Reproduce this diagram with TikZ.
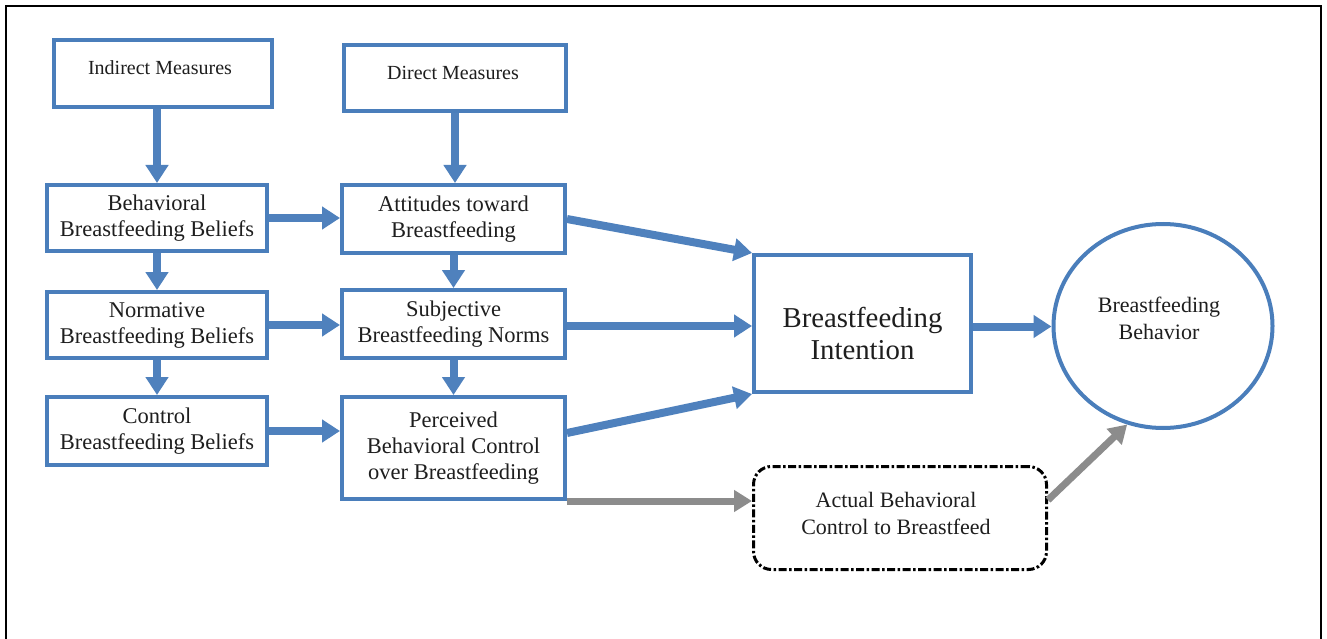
\documentclass[tikz,border=0pt]{standalone}
\usepackage{fontspec}
\setmainfont{Liberation Serif}
\usetikzlibrary{arrows.meta,shapes.geometric,calc}
\definecolor{bblue}{RGB}{74,126,187}
\definecolor{abblue}{RGB}{79,129,189}
\definecolor{agray}{RGB}{140,140,140}
\definecolor{txt}{RGB}{30,30,30}
\tikzset{
  box/.style={draw=bblue, line width=4pt, fill=white, inner sep=2pt, align=center,
    text=txt, font=\fontsize{22.5}{26}\selectfont},
  smalltxt/.style={text=txt, font=\fontsize{20}{24}\selectfont, inner sep=0pt},
  bigtxt/.style={text=txt, align=center, font=\fontsize{28.8}{32}\selectfont, inner sep=0pt},
  circtxt/.style={text=txt, align=center, font=\fontsize{22}{27}\selectfont, inner sep=0pt},
  barrow/.style={draw=abblue, line width=8pt, -{Triangle[length=18pt,width=22pt]}},
  garrow/.style={draw=agray, line width=7pt, -{Triangle[length=18pt,width=21pt]}},
  actbox/.style={draw=black, line width=3pt, rounded corners=18pt, fill=white,
    dash pattern=on 8pt off 2.5pt on 2.5pt off 2.5pt, align=center, text=txt,
    font=\fontsize{22}{27}\selectfont},
}
\begin{document}
\begin{tikzpicture}[x=1pt,y=-1pt]
\useasboundingbox (0,0) rectangle (1327,639);
\fill[white] (0,0) rectangle (1327,639);
\draw[line width=2pt] (6,660) -- (6,6) -- (1321,6) -- (1321,660);

% boxes
\node[box, minimum width=218pt, minimum height=67pt] (ind) at (163,73.5) {};
\node[smalltxt] (indt) at (160,68) {Indirect Measures};
\node[box, minimum width=222pt, minimum height=66pt] (dir) at (455,78) {};
\node[smalltxt] (dirt) at (453,73) {Direct Measures};

\node[box, minimum width=220pt, minimum height=66pt] (beh) at (157,218) {Behavioral\\Breastfeeding Beliefs};
\node[box, minimum width=220pt, minimum height=66pt] (nor) at (157,325) {Normative\\Breastfeeding Beliefs};
\node[box, minimum width=220pt, minimum height=68pt] (con) at (157,431) {Control\\Breastfeeding Beliefs};

\node[box, minimum width=223pt, minimum height=68pt] (att) at (453.5,219) {Attitudes toward\\Breastfeeding};
\node[box, minimum width=223pt, minimum height=68pt] (sub) at (453.5,324) {Subjective\\Breastfeeding Norms};
\node[box, minimum width=223pt, minimum height=102pt] (per) at (453.5,448) {Perceived\\Behavioral Control\\over Breastfeeding};

\node[box, minimum width=217pt, minimum height=137pt] (int) at (862.5,323.5) {};
\node[bigtxt] (intt) at (862.5,333) {Breastfeeding\\Intention};

\node[actbox, minimum width=293pt, minimum height=103pt] (act) at (900,518) {};
\node[circtxt] (actt) at (896,513) {Actual Behavioral\\Control to Breastfeed};

\node[draw=bblue, line width=4pt, fill=white, ellipse, minimum width=219pt, minimum height=204pt, inner sep=0pt] (circ) at (1163,326) {};
\node[circtxt] (circt) at (1159,318) {Breastfeeding\\Behavior};

% vertical arrows
\draw[barrow] (beh.north |- ind.south) -- (beh.north);
\draw[barrow] (dir.south) -- (dir.south |- att.north);
\draw[barrow] (beh.south) -- (nor.north);
\draw[barrow] (nor.south) -- (con.north);
\draw[barrow] (att.south) -- (sub.north);
\draw[barrow] (sub.south) -- (per.north);

% horizontal arrows
\draw[barrow] (beh.east) -- (beh.east -| att.west);
\draw[barrow] (nor.east) -- (nor.east -| sub.west);
\draw[barrow] (con.east) -- (con.east -| per.west);

% to intention
\draw[barrow] (att.east) -- (int.north west);
\draw[barrow] ([yshift=-2pt]sub.east) -- ([yshift=-2pt]sub.east -| int.west);
\draw[barrow] ([yshift=15pt]per.east) -- (int.south west);

% to behavior
\draw[barrow] ([yshift=-3pt]int.east) -- ([yshift=-3pt]int.east -| circ.west);
\draw[garrow] (per.south east) -- (per.south east -| act.west);
\draw[garrow] ([yshift=18pt]act.east) -- (circ.250);
\end{tikzpicture}
\end{document}
